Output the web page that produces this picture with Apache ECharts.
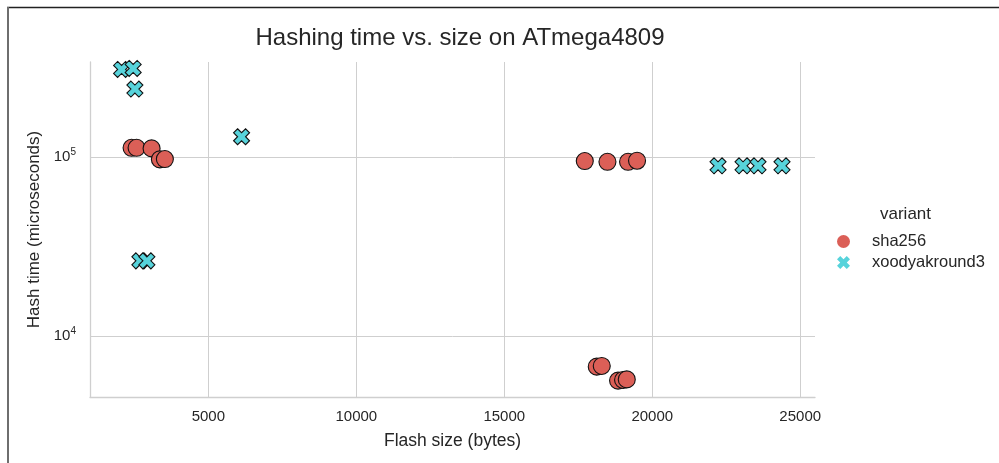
<!DOCTYPE html>
<html>
<head>
<meta charset="utf-8">
<script src="https://cdn.jsdelivr.net/npm/echarts@6/dist/echarts.min.js"></script>
<style>
  html, body { margin: 0; padding: 0; background: #ffffff; }
  #chart { width: 999px; height: 463px; }
</style>
</head>
<body>
<div id="chart"></div>
<script>
// Benchmark results: flash footprint (bytes) vs. hashing time (microseconds)
const sha256Flash = [2405, 2574, 3081, 3361, 3530, 17720, 18486, 19182, 19486, 18125, 18294, 18845, 19014, 19139];
const sha256Time  = [112700, 112700, 111800, 97100, 97500, 95000, 94100, 94100, 95400, 6740, 6800, 5630, 5680, 5720];

const xoodyakFlash = [2068, 2459, 2517, 2686, 2922, 6122, 22223, 23068, 23574, 24385];
const xoodyakTime  = [309000, 313000, 240000, 26300, 26300, 129900, 89400, 89400, 89400, 89400];

const variants = ['sha256', 'xoodyakround3'];
const palette = ['#db5f57', '#57d3db'];

const xName = 'Flash size (bytes)';
const yName = 'Hash time (microseconds)';
const chartTitle = 'Hashing time vs. size on ATmega4809';
const legendTitle = 'variant';

// filled "X" marker outline
const xMarker = 'path://M2.5,0L5,2.5L7.5,0L10,2.5L7.5,5L10,7.5L7.5,10L5,7.5L2.5,10L0,7.5L2.5,5L0,2.5Z';

const pairs = (xs, ys) => xs.map((x, i) => [x, ys[i]]);

const textColor = '#262626';
const gridColor = '#cfcfcf';
const font = 'Liberation Sans, Arial, sans-serif';

const chart = echarts.init(document.getElementById('chart'), null, { renderer: 'canvas' });

chart.setOption({
  backgroundColor: '#ffffff',
  animation: false,
  textStyle: { fontFamily: font, color: textColor },
  title: {
    text: chartTitle,
    left: 455, top: 21, textAlign: 'center',
    textStyle: { fontSize: 24, fontWeight: 'normal', color: textColor, fontFamily: font }
  },
  grid: { left: 90, right: 184, top: 62, bottom: 66, containLabel: false },
  xAxis: {
    type: 'value',
    min: 1000, max: 25500, splitNumber: 5,
    name: xName, nameLocation: 'middle', nameGap: 35,
    nameTextStyle: { fontSize: 17.5, color: textColor, fontFamily: font },
    axisLine: { show: true, lineStyle: { color: gridColor, width: 1.3 } },
    axisTick: { show: false },
    axisLabel: {
      fontSize: 15, color: textColor, margin: 12,
      showMinLabel: false, showMaxLabel: false,
      formatter: v => String(Math.round(v))
    },
    splitLine: { show: true, showMinLine: false, showMaxLine: false, lineStyle: { color: gridColor, width: 1 } }
  },
  yAxis: {
    type: 'log', logBase: 10,
    min: 4560, max: 340000,
    name: yName, nameLocation: 'middle', nameGap: 46,
    nameTextStyle: { fontSize: 17, color: textColor, fontFamily: font },
    axisLine: { show: true, lineStyle: { color: gridColor, width: 1.3 } },
    axisTick: { show: false },
    axisLabel: {
      fontSize: 15, color: textColor, margin: 14,
      showMinLabel: false, showMaxLabel: false,
      formatter: v => '10{sup|' + Math.round(Math.log10(v)) + '}',
      rich: { sup: { fontSize: 10, color: textColor, padding: [0, 0, 10, 0] } }
    },
    splitLine: { show: true, showMinLine: false, showMaxLine: false, lineStyle: { color: gridColor, width: 1 } }
  },
  legend: {
    orient: 'vertical', left: 832, top: 228,
    itemWidth: 13, itemHeight: 13, itemGap: 4,
    textStyle: { fontSize: 16.5, color: textColor, padding: [0, 0, 0, 17], fontFamily: font },
    itemStyle: { borderWidth: 0 },
    data: [
      { name: variants[0], icon: 'circle' },
      { name: variants[1], icon: xMarker }
    ]
  },
  series: [
    {
      name: variants[0], type: 'scatter',
      symbol: 'circle', symbolSize: 17,
      itemStyle: { color: palette[0], borderColor: '#111', borderWidth: 1.1, opacity: 1 },
      data: pairs(sha256Flash, sha256Time)
    },
    {
      name: variants[1], type: 'scatter',
      symbol: xMarker, symbolSize: 16,
      itemStyle: { color: palette[1], borderColor: '#111', borderWidth: 1.1, opacity: 1 },
      data: pairs(xoodyakFlash, xoodyakTime)
    }
  ],
  graphic: [
    { type: 'text', left: 880, top: 206, style: { text: legendTitle, fontSize: 17, fill: textColor, fontFamily: font } },
    // figure frame edges
    { type: 'line', shape: { x1: 7, y1: 7.5, x2: 999, y2: 7.5 }, style: { stroke: '#222', lineWidth: 1.5 } },
    { type: 'line', shape: { x1: 8, y1: 7, x2: 8, y2: 463 }, style: { stroke: '#6e6e6e', lineWidth: 2 } }
  ]
});
</script>
</body>
</html>
